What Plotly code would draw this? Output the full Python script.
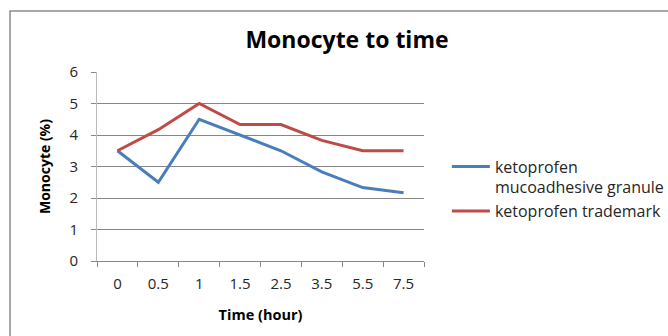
import plotly.graph_objects as go

time_labels = ["0", "0.5", "1", "1.5", "2.5", "3.5", "5.5", "7.5"]
granule = [3.5, 2.5, 4.5, 4.0, 3.5, 2.83, 2.33, 2.17]
trademark = [3.5, 4.17, 5.0, 4.33, 4.33, 3.83, 3.5, 3.5]

FONT = "Open Sans"
BLUE = "#4A7EBB"
RED = "#BE4B48"
GRID = "#878787"
TEXT = "#262626"

fig = go.Figure()
fig.add_trace(go.Scatter(x=time_labels, y=granule, mode="lines",
                         name="ketoprofen<br>mucoadhesive granule",
                         line=dict(color=BLUE, width=3)))
fig.add_trace(go.Scatter(x=time_labels, y=trademark, mode="lines",
                         name="ketoprofen trademark",
                         line=dict(color=RED, width=3)))

fig.update_layout(
    width=668, height=336,
    margin=dict(l=97, r=244, t=72, b=75, autoexpand=False),
    paper_bgcolor="white", plot_bgcolor="white",
    font=dict(family=FONT, size=13, color=TEXT),
    title=dict(text="<b>Monocyte to time</b>", x=347 / 668, xanchor="center",
               y=1 - 40 / 336, yanchor="middle",
               font=dict(family=FONT, size=23, color="black")),
    showlegend=True,
    legend=dict(x=1.07, y=(261 - 189) / 189, xanchor="left", yanchor="middle",
                valign="top",
                bgcolor="rgba(0,0,0,0)", font=dict(family=FONT, size=16, color=TEXT),
                tracegroupgap=10, itemwidth=38),
    xaxis=dict(type="category", showgrid=False, showline=True, linecolor=GRID,
               linewidth=1, ticks="outside", tickson="boundaries", ticklen=5,
               tickcolor=GRID, range=[-0.5, 7.5], ticklabelstandoff=9,
               tickfont=dict(family=FONT, size=15, color=TEXT),
               title=dict(text="<b>Time (hour)</b>", standoff=17,
                          font=dict(family=FONT, size=14.5, color="black"))),
    yaxis=dict(range=[0, 6], dtick=1, showgrid=True, gridcolor=GRID, gridwidth=1,
               showline=True, linecolor="#bbbbbb", linewidth=1, ticks="outside",
               ticklen=5, tickcolor=GRID, ticklabelstandoff=10, zeroline=False,
               tickfont=dict(family=FONT, size=15, color=TEXT),
               title=dict(text="<b>Monocyte (%)</b>", standoff=15,
                          font=dict(family=FONT, size=14, color="black"))),
)

# chart frame (runs past the right and bottom edges of the page)
fig.add_shape(type="rect", xref="paper", yref="paper",
              x0=-87 / 327, x1=(690 - 97) / 327, y0=-90 / 189, y1=(261 - 11) / 189,
              line=dict(color="#8c8c8c", width=1.5), fillcolor="rgba(0,0,0,0)",
              layer="below")

fig.write_html("out.html")
